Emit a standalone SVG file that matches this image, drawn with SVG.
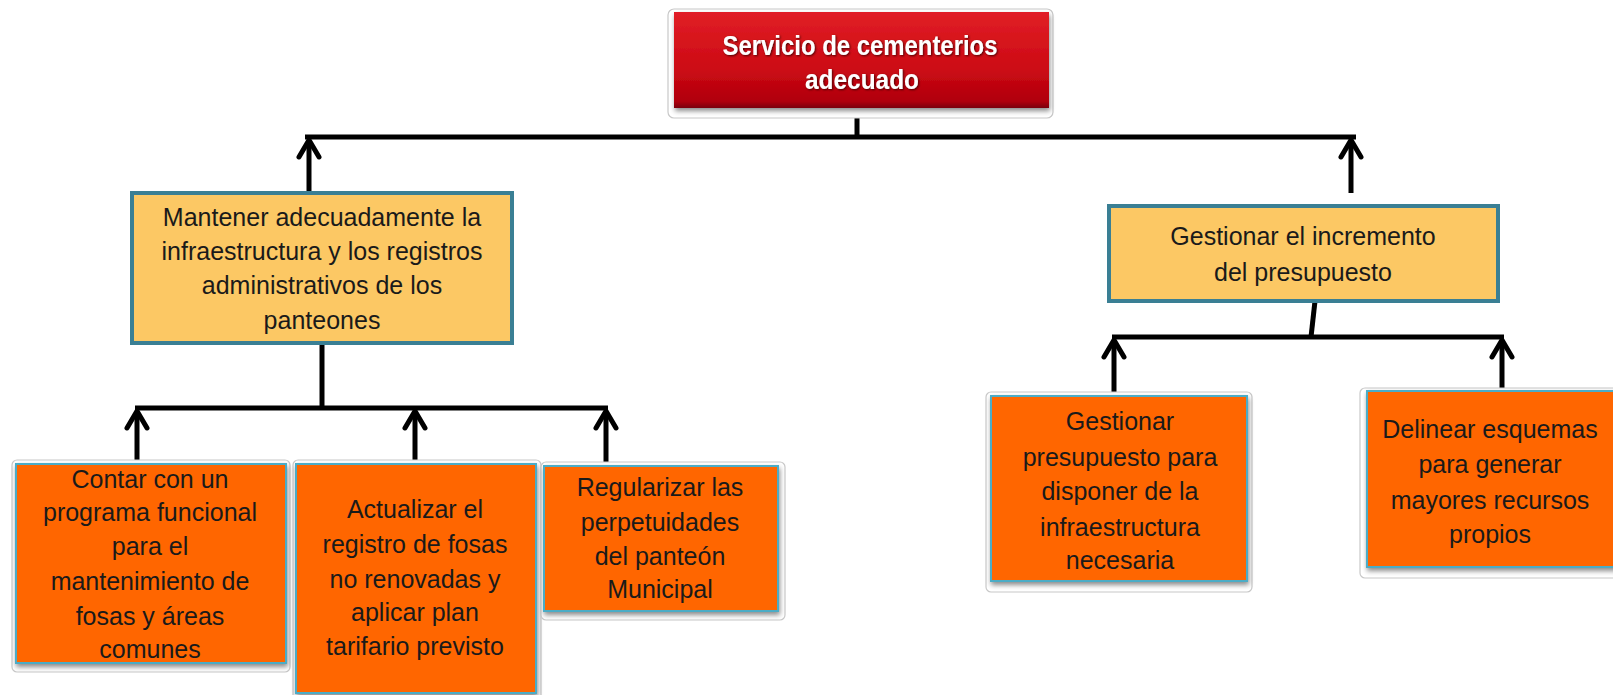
<svg xmlns="http://www.w3.org/2000/svg" width="1613" height="695" viewBox="0 0 1613 695">
<style>
.frame{fill:#fff;stroke:#c8c8c8;stroke-width:1.2}
.yel{fill:#fcc864;stroke:#3a7f94;stroke-width:4}
.org{fill:#ff6600;stroke:#4bacc6;stroke-width:2}
.t{font-family:"Liberation Sans",Arial,sans-serif;font-size:25px;fill:#1a1a1a;text-anchor:middle}
.title{font-family:"Liberation Sans",Arial,sans-serif;font-size:28px;font-weight:bold;fill:#fff;text-anchor:middle}
.c{stroke:#000;stroke-width:5;fill:none}
</style>
<defs>
<filter id="sh" x="-10%" y="-10%" width="120%" height="130%">
<feDropShadow dx="1" dy="3" stdDeviation="2.5" flood-color="#000" flood-opacity="0.45"/>
</filter>
<filter id="ts" x="-10%" y="-30%" width="120%" height="160%">
<feDropShadow dx="1" dy="1" stdDeviation="1.2" flood-color="#3a0000" flood-opacity="0.9"/>
</filter>
<linearGradient id="red" x1="0" y1="0" x2="0" y2="1">
<stop offset="0" stop-color="#e11f26"/>
<stop offset="0.6" stop-color="#cc0a14"/>
<stop offset="0.93" stop-color="#b0000c"/>
<stop offset="1" stop-color="#7a0008"/>
</linearGradient>
<marker id="ah" markerUnits="userSpaceOnUse" markerWidth="40" markerHeight="40" viewBox="-25 -20 40 40" refX="0" refY="0" orient="auto" overflow="visible">
<path d="M-17,-10 L0,0 L-17,10" fill="none" stroke="#000" stroke-width="5" stroke-linejoin="round" stroke-linecap="round"/>
</marker>
</defs>
<rect width="1613" height="695" fill="#fff"/>

<g id="connectors">
<line class="c" x1="857" y1="108" x2="857" y2="137"/>
<line class="c" x1="305" y1="137" x2="1356" y2="137"/>
<line class="c" x1="309" y1="192" x2="309" y2="140" marker-end="url(#ah)"/>
<line class="c" x1="1351" y1="193" x2="1351" y2="140" marker-end="url(#ah)"/>
<line class="c" x1="322" y1="343" x2="322" y2="408"/>
<line class="c" x1="135" y1="408" x2="608" y2="408"/>
<line class="c" x1="137" y1="463" x2="137" y2="411" marker-end="url(#ah)"/>
<line class="c" x1="415" y1="463" x2="415" y2="411" marker-end="url(#ah)"/>
<line class="c" x1="606" y1="466" x2="606" y2="411" marker-end="url(#ah)"/>
<line class="c" x1="1315" y1="301" x2="1311" y2="337"/>
<line class="c" x1="1112" y1="337" x2="1504" y2="337"/>
<line class="c" x1="1114" y1="396" x2="1114" y2="340" marker-end="url(#ah)"/>
<line class="c" x1="1502" y1="391" x2="1502" y2="340" marker-end="url(#ah)"/>
</g>

<g id="n-root">
<rect class="frame" x="668" y="9" width="385" height="109" rx="6"/>
<rect x="674" y="12" width="375" height="96" fill="url(#red)" filter="url(#sh)"/>
<g filter="url(#ts)">
<text class="title" x="860" y="55" textLength="275" lengthAdjust="spacingAndGlyphs">Servicio de cementerios</text>
<text class="title" x="862" y="89" textLength="114" lengthAdjust="spacingAndGlyphs">adecuado</text>
</g>
</g>

<g id="n-mantener">
<rect class="yel" x="132" y="193" width="380" height="150"/>
<text class="t" x="322" y="226">Mantener adecuadamente la</text>
<text class="t" x="322" y="260">infraestructura y los registros</text>
<text class="t" x="322" y="294">administrativos de los</text>
<text class="t" x="322" y="329">panteones</text>
</g>

<g id="n-gestionar">
<rect class="yel" x="1109" y="206" width="389" height="95"/>
<text class="t" x="1303" y="245">Gestionar el incremento</text>
<text class="t" x="1303" y="281">del presupuesto</text>
</g>

<g id="n-contar">
<rect class="frame" x="12" y="460" width="278" height="212" rx="5"/>
<rect class="org" x="16" y="464" width="270" height="199" filter="url(#sh)"/>
<text class="t" x="150" y="488">Contar con un</text>
<text class="t" x="150" y="521">programa funcional</text>
<text class="t" x="150" y="555">para el</text>
<text class="t" x="150" y="590">mantenimiento de</text>
<text class="t" x="150" y="625">fosas y áreas</text>
<text class="t" x="150" y="658">comunes</text>
</g>

<g id="n-actualizar">
<rect class="frame" x="293" y="460" width="248" height="240" rx="5"/>
<rect class="org" x="296" y="464" width="240" height="229" filter="url(#sh)"/>
<text class="t" x="415" y="518">Actualizar el</text>
<text class="t" x="415" y="553">registro de fosas</text>
<text class="t" x="415" y="588">no renovadas y</text>
<text class="t" x="415" y="621">aplicar plan</text>
<text class="t" x="415" y="655">tarifario previsto</text>
</g>

<g id="n-regularizar">
<rect class="frame" x="541" y="462" width="244" height="158" rx="5"/>
<rect class="org" x="544" y="466" width="234" height="145" filter="url(#sh)"/>
<text class="t" x="660" y="496">Regularizar las</text>
<text class="t" x="660" y="531">perpetuidades</text>
<text class="t" x="660" y="565">del panteón</text>
<text class="t" x="660" y="598">Municipal</text>
</g>

<g id="n-presupuesto">
<rect class="frame" x="986" y="392" width="266" height="200" rx="5"/>
<rect class="org" x="991" y="396" width="256" height="185" filter="url(#sh)"/>
<text class="t" x="1120" y="430">Gestionar</text>
<text class="t" x="1120" y="466">presupuesto para</text>
<text class="t" x="1120" y="500">disponer de la</text>
<text class="t" x="1120" y="536">infraestructura</text>
<text class="t" x="1120" y="569">necesaria</text>
</g>

<g id="n-delinear">
<rect class="frame" x="1360" y="388" width="260" height="190" rx="5"/>
<rect class="org" x="1367" y="391" width="250" height="176" filter="url(#sh)"/>
<text class="t" x="1490" y="438">Delinear esquemas</text>
<text class="t" x="1490" y="473">para generar</text>
<text class="t" x="1490" y="509">mayores recursos</text>
<text class="t" x="1490" y="543">propios</text>
</g>
</svg>
